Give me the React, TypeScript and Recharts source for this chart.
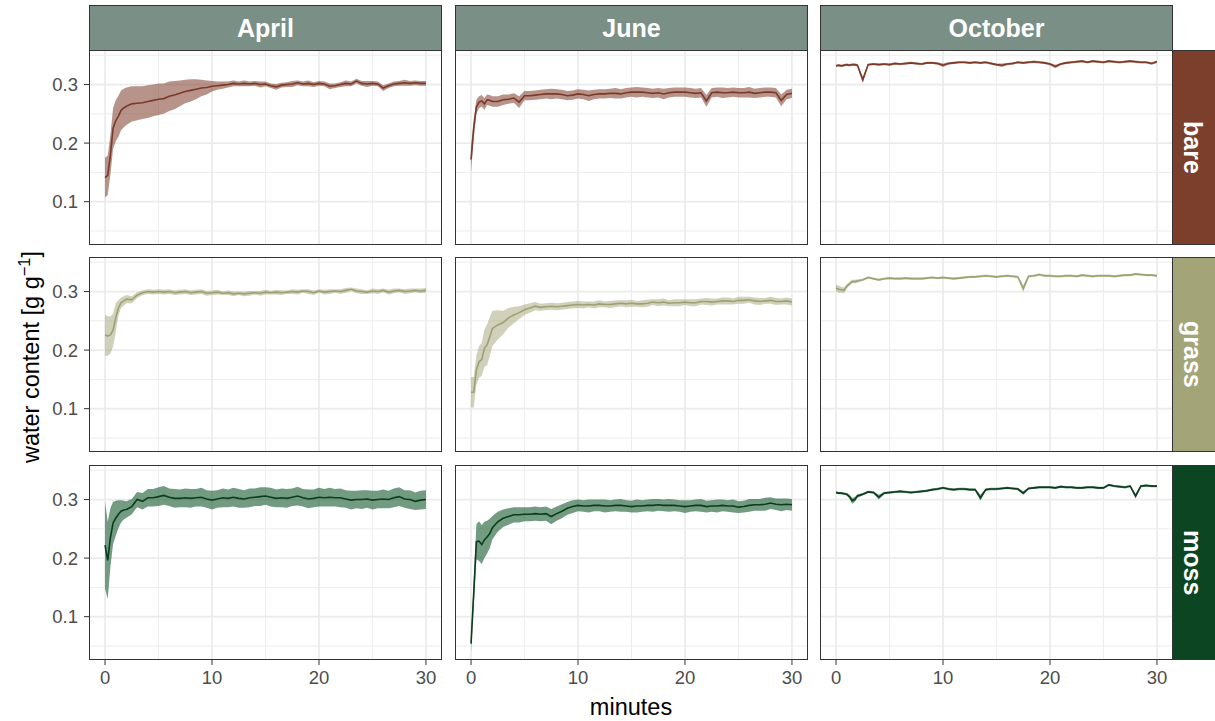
import React from "react";
import { ComposedChart, Area, Line, XAxis, YAxis, CartesianGrid } from "recharts";

const FONT = "'Liberation Sans', Arial, Helvetica, sans-serif";

// time axis (minutes)
const minutes = [
  0, 0.25, 0.5, 0.75, 1, 1.25, 1.5, 1.75, 2,
  2.5, 3, 3.5, 4, 4.5, 5, 5.5, 6, 6.5, 7, 7.5, 8, 8.5, 9, 9.5, 10,
  10.5, 11, 11.5, 12, 12.5, 13, 13.5, 14, 14.5, 15, 15.5, 16, 16.5, 17, 17.5, 18, 18.5, 19, 19.5, 20,
  20.5, 21, 21.5, 22, 22.5, 23, 23.5, 24, 24.5, 25, 25.5, 26, 26.5, 27, 27.5, 28, 28.5, 29, 29.5, 30,
];

// ---------- bare ----------
const aprilBareMean = [
  0.141, 0.145, 0.180, 0.225, 0.238, 0.246, 0.256, 0.260, 0.263,
  0.267, 0.268, 0.269, 0.271, 0.273, 0.275, 0.276, 0.280, 0.282, 0.285, 0.288, 0.290, 0.292, 0.294, 0.295, 0.297,
  0.298, 0.299, 0.300, 0.302, 0.301, 0.302, 0.301, 0.302, 0.300, 0.301, 0.298, 0.296, 0.299, 0.300, 0.301, 0.303, 0.301, 0.302, 0.300, 0.302,
  0.301, 0.297, 0.298, 0.300, 0.302, 0.301, 0.306, 0.302, 0.301, 0.302, 0.301, 0.294, 0.298, 0.301, 0.302, 0.303, 0.302, 0.303, 0.302, 0.302,
];
const aprilBareSd = [
  0.034, 0.034, 0.034, 0.035, 0.035, 0.035, 0.034, 0.033, 0.032,
  0.030, 0.029, 0.028, 0.028, 0.027, 0.027, 0.026, 0.025, 0.024, 0.022, 0.020, 0.019, 0.017, 0.014, 0.012, 0.009,
  0.007, 0.006, 0.005, 0.005, 0.004, 0.005, 0.004, 0.004, 0.005, 0.004, 0.004, 0.005, 0.004, 0.004, 0.005, 0.004, 0.004, 0.005, 0.004, 0.004,
  0.004, 0.005, 0.004, 0.004, 0.005, 0.004, 0.004, 0.004, 0.005, 0.004, 0.004, 0.005, 0.004, 0.004, 0.004, 0.005, 0.004, 0.004, 0.004, 0.004,
];
const juneBareMean = [
  0.172, 0.225, 0.262, 0.270, 0.272, 0.267, 0.274, 0.273, 0.271,
  0.271, 0.274, 0.275, 0.277, 0.270, 0.281, 0.281, 0.282, 0.283, 0.284, 0.284, 0.284, 0.283, 0.281, 0.282, 0.284,
  0.283, 0.281, 0.283, 0.284, 0.284, 0.285, 0.285, 0.284, 0.286, 0.287, 0.287, 0.287, 0.286, 0.285, 0.286, 0.284, 0.286, 0.287, 0.287, 0.287,
  0.286, 0.285, 0.286, 0.272, 0.286, 0.287, 0.286, 0.286, 0.287, 0.286, 0.286, 0.287, 0.285, 0.286, 0.287, 0.287, 0.286, 0.273, 0.283, 0.285,
];
const juneBareSd = [
  0.022, 0.016, 0.012, 0.010, 0.010, 0.010, 0.009, 0.009, 0.009,
  0.009, 0.009, 0.008, 0.008, 0.010, 0.008, 0.008, 0.008, 0.008, 0.008, 0.009, 0.008, 0.008, 0.008, 0.008, 0.008,
  0.008, 0.009, 0.008, 0.008, 0.008, 0.008, 0.009, 0.008, 0.008, 0.008, 0.009, 0.008, 0.008, 0.008, 0.008, 0.009, 0.008, 0.008, 0.008, 0.008,
  0.008, 0.008, 0.008, 0.010, 0.008, 0.008, 0.009, 0.008, 0.008, 0.008, 0.008, 0.009, 0.008, 0.008, 0.008, 0.008, 0.008, 0.010, 0.008, 0.008,
];
const octoberBareMean = [
  0.332, 0.333, 0.332, 0.333, 0.334, 0.333, 0.334, 0.334, 0.333,
  0.308, 0.334, 0.335, 0.334, 0.335, 0.334, 0.336, 0.335, 0.336, 0.337, 0.336, 0.335, 0.337, 0.337, 0.336, 0.333,
  0.336, 0.337, 0.338, 0.338, 0.337, 0.338, 0.337, 0.338, 0.336, 0.334, 0.333, 0.335, 0.336, 0.338, 0.337, 0.338, 0.339, 0.338, 0.337, 0.335,
  0.331, 0.335, 0.337, 0.338, 0.339, 0.340, 0.338, 0.340, 0.339, 0.338, 0.340, 0.339, 0.338, 0.339, 0.340, 0.339, 0.338, 0.338, 0.336, 0.339,
];
const octoberBareSd = [
  0.002, 0.002, 0.002, 0.002, 0.002, 0.002, 0.002, 0.002, 0.002,
  0.005, 0.002, 0.002, 0.002, 0.002, 0.002, 0.002, 0.002, 0.002, 0.002, 0.002, 0.002, 0.002, 0.002, 0.002, 0.003,
  0.002, 0.002, 0.002, 0.002, 0.002, 0.002, 0.002, 0.002, 0.002, 0.002, 0.003, 0.002, 0.002, 0.002, 0.002, 0.002, 0.002, 0.002, 0.002, 0.002,
  0.003, 0.002, 0.002, 0.002, 0.002, 0.002, 0.002, 0.002, 0.002, 0.002, 0.002, 0.002, 0.002, 0.002, 0.002, 0.002, 0.002, 0.002, 0.002, 0.002,
];

// ---------- grass ----------
const aprilGrassMean = [
  0.226, 0.224, 0.226, 0.234, 0.255, 0.272, 0.281, 0.284, 0.287,
  0.286, 0.294, 0.298, 0.300, 0.299, 0.300, 0.299, 0.300, 0.298, 0.299, 0.300, 0.298, 0.299, 0.300, 0.297, 0.298,
  0.299, 0.297, 0.298, 0.296, 0.297, 0.296, 0.297, 0.298, 0.297, 0.299, 0.298, 0.299, 0.298, 0.299, 0.300, 0.299, 0.301, 0.300, 0.298, 0.301,
  0.299, 0.300, 0.301, 0.300, 0.302, 0.304, 0.301, 0.300, 0.299, 0.301, 0.300, 0.302, 0.299, 0.301, 0.302, 0.300, 0.301, 0.302, 0.301, 0.302,
];
const aprilGrassSd = [
  0.035, 0.034, 0.032, 0.028, 0.025, 0.013, 0.009, 0.008, 0.007,
  0.006, 0.005, 0.004, 0.004, 0.004, 0.004, 0.004, 0.004, 0.004, 0.004, 0.004, 0.004, 0.004, 0.004, 0.004, 0.004,
  0.004, 0.003, 0.004, 0.004, 0.003, 0.004, 0.004, 0.003, 0.004, 0.004, 0.003, 0.004, 0.004, 0.003, 0.004, 0.004, 0.003, 0.004, 0.004, 0.003,
  0.004, 0.004, 0.003, 0.004, 0.004, 0.003, 0.004, 0.004, 0.003, 0.004, 0.004, 0.003, 0.004, 0.004, 0.003, 0.004, 0.004, 0.003, 0.004, 0.004,
];
const juneGrassMean = [
  0.128, 0.128, 0.166, 0.180, 0.184, 0.203, 0.209, 0.223, 0.237,
  0.243, 0.247, 0.255, 0.260, 0.264, 0.269, 0.272, 0.275, 0.273, 0.274, 0.275, 0.274, 0.275, 0.276, 0.277, 0.278,
  0.277, 0.278, 0.277, 0.279, 0.278, 0.278, 0.279, 0.280, 0.279, 0.280, 0.279, 0.279, 0.280, 0.282, 0.281, 0.282, 0.280, 0.281, 0.281, 0.282,
  0.281, 0.281, 0.283, 0.283, 0.282, 0.283, 0.284, 0.284, 0.283, 0.285, 0.285, 0.286, 0.284, 0.283, 0.284, 0.285, 0.283, 0.283, 0.284, 0.282,
];
const juneGrassSd = [
  0.026, 0.026, 0.025, 0.027, 0.028, 0.032, 0.035, 0.033, 0.030,
  0.025, 0.020, 0.017, 0.014, 0.011, 0.009, 0.008, 0.007, 0.006, 0.006, 0.006, 0.006, 0.006, 0.006, 0.006, 0.006,
  0.006, 0.005, 0.006, 0.006, 0.005, 0.006, 0.006, 0.005, 0.006, 0.006, 0.005, 0.006, 0.006, 0.005, 0.006, 0.006, 0.005, 0.006, 0.006, 0.005,
  0.006, 0.006, 0.005, 0.006, 0.006, 0.005, 0.006, 0.006, 0.005, 0.006, 0.006, 0.005, 0.006, 0.006, 0.005, 0.006, 0.006, 0.005, 0.006, 0.006,
];
const octoberGrassMean = [
  0.306, 0.304, 0.303, 0.302, 0.309, 0.313, 0.317, 0.317, 0.318,
  0.320, 0.324, 0.322, 0.320, 0.322, 0.323, 0.322, 0.322, 0.323, 0.322, 0.322, 0.322, 0.323, 0.324, 0.323, 0.324,
  0.323, 0.322, 0.323, 0.324, 0.325, 0.325, 0.326, 0.327, 0.326, 0.325, 0.326, 0.327, 0.326, 0.325, 0.305, 0.326, 0.327, 0.329, 0.327, 0.327,
  0.326, 0.326, 0.327, 0.327, 0.326, 0.328, 0.327, 0.326, 0.327, 0.327, 0.327, 0.326, 0.327, 0.328, 0.328, 0.330, 0.329, 0.328, 0.328, 0.327,
];
const octoberGrassSd = [
  0.006, 0.006, 0.005, 0.005, 0.004, 0.003, 0.003, 0.003, 0.003,
  0.002, 0.002, 0.002, 0.002, 0.002, 0.002, 0.002, 0.002, 0.002, 0.002, 0.002, 0.002, 0.002, 0.002, 0.002, 0.002,
  0.002, 0.002, 0.002, 0.002, 0.002, 0.002, 0.002, 0.002, 0.002, 0.002, 0.002, 0.002, 0.002, 0.002, 0.006, 0.002, 0.002, 0.002, 0.002, 0.002,
  0.002, 0.002, 0.002, 0.002, 0.002, 0.002, 0.002, 0.002, 0.002, 0.002, 0.002, 0.002, 0.002, 0.002, 0.002, 0.002, 0.002, 0.002, 0.002, 0.002,
];

// ---------- moss ----------
const aprilMossMean = [
  0.222, 0.196, 0.235, 0.260, 0.268, 0.275, 0.280, 0.282, 0.283,
  0.288, 0.300, 0.297, 0.303, 0.303, 0.305, 0.307, 0.304, 0.302, 0.302, 0.303, 0.302, 0.303, 0.304, 0.301, 0.299,
  0.301, 0.303, 0.302, 0.304, 0.302, 0.301, 0.303, 0.304, 0.305, 0.306, 0.304, 0.302, 0.303, 0.302, 0.304, 0.306, 0.303, 0.301, 0.302, 0.304,
  0.303, 0.304, 0.303, 0.303, 0.301, 0.299, 0.300, 0.300, 0.301, 0.299, 0.300, 0.301, 0.300, 0.303, 0.305, 0.301, 0.300, 0.297, 0.299, 0.300,
];
const aprilMossSd = [
  0.074, 0.066, 0.050, 0.036, 0.030, 0.024, 0.019, 0.016, 0.014,
  0.013, 0.013, 0.014, 0.015, 0.015, 0.016, 0.016, 0.015, 0.016, 0.015, 0.016, 0.016, 0.015, 0.016, 0.015, 0.016,
  0.015, 0.016, 0.015, 0.016, 0.016, 0.015, 0.016, 0.015, 0.016, 0.015, 0.016, 0.015, 0.016, 0.016, 0.015, 0.016, 0.015, 0.016, 0.015, 0.016,
  0.015, 0.016, 0.015, 0.016, 0.015, 0.016, 0.015, 0.016, 0.015, 0.016, 0.015, 0.016, 0.015, 0.016, 0.016, 0.015, 0.016, 0.015, 0.016, 0.016,
];
const juneMossMean = [
  0.054, 0.140, 0.228, 0.229, 0.223, 0.231, 0.236, 0.242, 0.252,
  0.262, 0.268, 0.271, 0.274, 0.274, 0.275, 0.275, 0.276, 0.275, 0.276, 0.271, 0.276, 0.280, 0.285, 0.288, 0.290,
  0.289, 0.289, 0.290, 0.290, 0.289, 0.289, 0.290, 0.290, 0.289, 0.288, 0.289, 0.289, 0.290, 0.290, 0.291, 0.290, 0.290, 0.290, 0.289, 0.288,
  0.289, 0.290, 0.290, 0.288, 0.289, 0.289, 0.290, 0.289, 0.289, 0.287, 0.288, 0.290, 0.291, 0.291, 0.292, 0.294, 0.292, 0.291, 0.292, 0.291,
];
const juneMossSd = [
  0.014, 0.022, 0.030, 0.034, 0.033, 0.031, 0.028, 0.025, 0.020,
  0.017, 0.015, 0.014, 0.013, 0.013, 0.012, 0.012, 0.012, 0.012, 0.012, 0.013, 0.012, 0.012, 0.011, 0.011, 0.010,
  0.010, 0.011, 0.010, 0.010, 0.011, 0.010, 0.010, 0.011, 0.010, 0.010, 0.011, 0.010, 0.010, 0.011, 0.010, 0.010, 0.011, 0.010, 0.010, 0.011,
  0.010, 0.010, 0.011, 0.010, 0.010, 0.011, 0.010, 0.010, 0.011, 0.010, 0.010, 0.011, 0.010, 0.010, 0.011, 0.010, 0.010, 0.011, 0.010, 0.010,
];
const octoberMossMean = [
  0.312, 0.311, 0.311, 0.310, 0.309, 0.305, 0.298, 0.300, 0.306,
  0.309, 0.313, 0.312, 0.304, 0.311, 0.312, 0.313, 0.314, 0.313, 0.312, 0.313, 0.314, 0.315, 0.317, 0.318, 0.320,
  0.318, 0.317, 0.318, 0.318, 0.317, 0.317, 0.303, 0.317, 0.318, 0.318, 0.319, 0.320, 0.319, 0.318, 0.311, 0.319, 0.320, 0.321, 0.321, 0.321,
  0.320, 0.322, 0.321, 0.321, 0.320, 0.320, 0.321, 0.321, 0.320, 0.320, 0.325, 0.323, 0.322, 0.321, 0.323, 0.306, 0.323, 0.324, 0.323, 0.323,
];
const octoberMossSd = [
  0.002, 0.002, 0.002, 0.002, 0.002, 0.003, 0.005, 0.004, 0.003,
  0.002, 0.002, 0.002, 0.004, 0.002, 0.002, 0.002, 0.002, 0.002, 0.002, 0.002, 0.002, 0.002, 0.002, 0.002, 0.002,
  0.002, 0.002, 0.002, 0.002, 0.002, 0.002, 0.005, 0.002, 0.002, 0.002, 0.002, 0.002, 0.002, 0.002, 0.003, 0.002, 0.002, 0.002, 0.002, 0.002,
  0.002, 0.002, 0.002, 0.002, 0.002, 0.002, 0.002, 0.002, 0.002, 0.002, 0.002, 0.002, 0.002, 0.002, 0.002, 0.004, 0.002, 0.002, 0.002, 0.002,
];

// labels & ticks
const monthLabels = ["April", "June", "October"];
const surfaceLabels = ["bare", "grass", "moss"];
const xTicks = [0, 10, 20, 30];
const xMinorTicks = [5, 15, 25];
const yTicks = [0.1, 0.2, 0.3];
const yMinorTicks = [0.05, 0.15, 0.25, 0.35];
const xDomain = [-1.5, 31.5];
const yDomain = [0.026, 0.359];

const meanTable = [
  [aprilBareMean, juneBareMean, octoberBareMean],
  [aprilGrassMean, juneGrassMean, octoberGrassMean],
  [aprilMossMean, juneMossMean, octoberMossMean],
];
const sdTable = [
  [aprilBareSd, juneBareSd, octoberBareSd],
  [aprilGrassSd, juneGrassSd, octoberGrassSd],
  [aprilMossSd, juneMossSd, octoberMossSd],
];

const styles: Record<string, { strip: string; line: string; fill: string; opacity: number }> = {
  bare: { strip: "#7B3F2C", line: "#7A3A29", fill: "#7B3B2A", opacity: 0.55 },
  grass: { strip: "#A3A478", line: "#9CA172", fill: "#A3A478", opacity: 0.5 },
  moss: { strip: "#0C4521", line: "#0A3D1C", fill: "#1B5E35", opacity: 0.62 },
};

const COL_LEFT = [89, 455, 820];
const ROW_TOP = [50, 257, 465];
const PW = 353;
const PH = 195;
const STRIP_BG = "#7A8F86";
const BORDER = "#333333";
const GRID = "#EBEBEB";

function Panel({ row, col }: { row: number; col: number }) {
  const surface = surfaceLabels[row];
  const st = styles[surface];
  const mean = meanTable[row][col];
  const sd = sdTable[row][col];
  const data = minutes.map((t, i) => ({
    t,
    mean: mean[i],
    band: [mean[i] - sd[i], mean[i] + sd[i]],
  }));
  const isLeft = col === 0;
  const isBottom = row === 2;
  const padL = isLeft ? 60 : 5;
  const padB = isBottom ? 32 : 5;
  const width = padL + PW + 5;
  const height = 5 + PH + padB;
  const tickStyle = { fill: "#4D4D4D", fontSize: 18.5, fontFamily: FONT };
  return (
    <div style={{ position: "absolute", left: COL_LEFT[col] - padL, top: ROW_TOP[row] - 5 }}>
      <ComposedChart
        width={width}
        height={height}
        data={data}
        margin={{ top: 5, right: 5, left: isLeft ? 0 : 5, bottom: isBottom ? 0 : 5 }}
      >
        <CartesianGrid
          horizontalValues={yMinorTicks}
          verticalValues={xMinorTicks}
          stroke={GRID}
          strokeWidth={0.9}
        />
        <CartesianGrid
          horizontalValues={yTicks}
          verticalValues={xTicks}
          stroke={GRID}
          strokeWidth={1.7}
        />
        <XAxis
          type="number"
          dataKey="t"
          domain={xDomain}
          ticks={xTicks}
          interval={0}
          hide={!isBottom}
          height={32}
          allowDataOverflow
          axisLine={false}
          tickSize={5}
          tickMargin={6}
          tickLine={{ stroke: BORDER, strokeWidth: 1 }}
          tick={tickStyle}
        />
        <YAxis
          type="number"
          domain={yDomain}
          ticks={yTicks}
          interval={0}
          hide={!isLeft}
          width={60}
          allowDataOverflow
          axisLine={false}
          tickSize={5}
          tickMargin={6}
          tickLine={{ stroke: BORDER, strokeWidth: 1 }}
          tick={tickStyle}
          tickFormatter={(v: number) => v.toFixed(1)}
        />
        <Area
          type="linear"
          dataKey="band"
          stroke="none"
          fill={st.fill}
          fillOpacity={st.opacity}
          isAnimationActive={false}
          activeDot={false}
        />
        <Line
          type="linear"
          dataKey="mean"
          stroke={st.line}
          strokeWidth={1.6}
          dot={false}
          activeDot={false}
          isAnimationActive={false}
        />
      </ComposedChart>
    </div>
  );
}

export default function App() {
  const cells: React.ReactNode[] = [];
  for (let r = 0; r < 3; r++) {
    for (let c = 0; c < 3; c++) {
      cells.push(<Panel key={`p${r}${c}`} row={r} col={c} />);
    }
  }
  return (
    <div
      style={{
        position: "absolute",
        left: 0,
        top: 0,
        width: 1215,
        height: 721,
        background: "#FFFFFF",
        overflow: "hidden",
        fontFamily: FONT,
      }}
    >
      <svg width={1215} height={721} style={{ position: "absolute", left: 0, top: 0 }}>
        <text
          transform="translate(39,357) rotate(-90)"
          textAnchor="middle"
          fontFamily={FONT}
          fontSize={23.5}
          fill="#000000"
        >
          water content [g g<tspan dy={-9} fontSize={16.5}>−1</tspan>
          <tspan dy={9} fontSize={23.5}>]</tspan>
        </text>
        <text x={631} y={715} textAnchor="middle" fontFamily={FONT} fontSize={23.5} fill="#000000">
          minutes
        </text>
      </svg>
      {cells}
      {ROW_TOP.map((top, r) =>
        COL_LEFT.map((left, c) => (
          <div
            key={`b${r}${c}`}
            style={{
              position: "absolute",
              left,
              top,
              width: PW,
              height: PH,
              border: `1px solid ${BORDER}`,
              boxSizing: "border-box",
              pointerEvents: "none",
            }}
          />
        ))
      )}
      {monthLabels.map((m, c) => (
        <div
          key={m}
          style={{
            position: "absolute",
            left: COL_LEFT[c],
            top: 5,
            width: PW,
            height: 46,
            background: STRIP_BG,
            border: `1px solid ${BORDER}`,
            boxSizing: "border-box",
            display: "flex",
            alignItems: "center",
            justifyContent: "center",
            color: "#FFFFFF",
            fontWeight: "bold",
            fontSize: 25,
          }}
        >
          {m}
        </div>
      ))}
      {surfaceLabels.map((s, r) => (
        <div
          key={s}
          style={{
            position: "absolute",
            left: COL_LEFT[2] + PW - 1,
            top: ROW_TOP[r],
            width: 60,
            height: PH,
            background: styles[s].strip,
            border: `1px solid ${BORDER}`,
            boxSizing: "border-box",
          }}
        >
          <div
            style={{
              position: "absolute",
              left: 0,
              top: 0,
              width: 38,
              height: "100%",
              display: "flex",
              alignItems: "center",
              justifyContent: "center",
            }}
          >
            <span
              style={{
                writingMode: "vertical-rl",
                color: "#FFFFFF",
                fontWeight: "bold",
                fontSize: 25,
              }}
            >
              {s}
            </span>
          </div>
        </div>
      ))}
    </div>
  );
}
